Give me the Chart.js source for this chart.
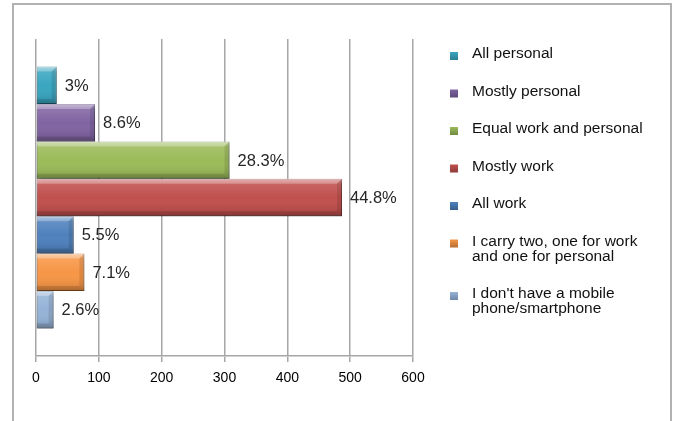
<!DOCTYPE html>
<html>
<head>
<meta charset="utf-8">
<script src="https://cdn.jsdelivr.net/npm/chart.js@4/dist/chart.umd.min.js"></script>
<style>
    html, body { margin: 0; padding: 0; background: #fff; }
    canvas { display: block; }
</style>
</head>
<body>
<canvas id="myChart" width="674" height="421"></canvas>
<script>
// Survey answers: how the mobile phone is used
const seriesNames = [
    'All personal',
    'Mostly personal',
    'Equal work and personal',
    'Mostly work',
    'All work',
    'I carry two, one for work and one for personal',
    "I don't have a mobile phone/smartphone"
];
const responseCounts = [33, 94, 308, 487, 60, 77, 28];
const xTicks = [0, 100, 200, 300, 400, 500, 600];

const barColors = ['#3AA6C0', '#8064A2', '#9BBB59', '#C0504D', '#4F81BD', '#F79646', '#95B3D7'];
const edgeColors = ['#2B7F94', '#5E4A7A', '#718B40', '#8F3B39', '#385F8C', '#B76E32', '#6F87A6'];

const totalCount = responseCounts.reduce((a, b) => a + b, 0);

function percentText(v) {
    let s = (v / totalCount * 100).toFixed(1);
    if (s.endsWith('.0')) s = s.slice(0, -2);
    return s + '%';
}

const FONT = '"Liberation Sans", Arial, sans-serif';

// white page with the light frame around the whole chart
const framePlugin = {
    id: 'frame',
    beforeDraw(chart) {
        const ctx = chart.ctx;
        ctx.save();
        ctx.fillStyle = '#fff';
        ctx.fillRect(0, 0, chart.width, chart.height);
        ctx.strokeStyle = '#B2B2B2';
        ctx.lineWidth = 2;
        ctx.strokeRect(13, 4, 658, 600);
        ctx.restore();
    }
};

// soft drop shadow under the bars, then a bevel-like shading on top
const bevelPlugin = {
    id: 'bevel',
    beforeDatasetDraw(chart) {
        const ctx = chart.ctx;
        ctx.save();
        ctx.shadowColor = 'rgba(0,0,0,0.35)';
        ctx.shadowBlur = 3;
        ctx.shadowOffsetX = 1;
        ctx.shadowOffsetY = 2;
    },
    afterDatasetDraw(chart, args) {
        const ctx = chart.ctx;
        ctx.restore();
        const meta = args.meta;
        meta.data.forEach(bar => {
            const left = Math.min(bar.base, bar.x);
            const right = Math.max(bar.base, bar.x);
            const top = bar.y - bar.height / 2;
            const h = bar.height;
            const w = right - left;
            ctx.save();
            const g = ctx.createLinearGradient(0, top, 0, top + h);
            g.addColorStop(0, 'rgba(255,255,255,0.4)');
            g.addColorStop(0.14, 'rgba(255,255,255,0.12)');
            g.addColorStop(0.5, 'rgba(255,255,255,0)');
            g.addColorStop(0.85, 'rgba(0,0,0,0.08)');
            g.addColorStop(1, 'rgba(0,0,0,0.22)');
            ctx.fillStyle = g;
            ctx.fillRect(left, top, w, h);
            // top bevel strip
            const b = Math.min(5, w / 3);
            ctx.fillStyle = 'rgba(255,255,255,0.25)';
            ctx.beginPath();
            ctx.moveTo(left, top);
            ctx.lineTo(right, top);
            ctx.lineTo(right - b, top + b);
            ctx.lineTo(left, top + b);
            ctx.closePath();
            ctx.fill();
            // right end bevel
            ctx.fillStyle = 'rgba(0,0,0,0.1)';
            ctx.beginPath();
            ctx.moveTo(right, top);
            ctx.lineTo(right, top + h);
            ctx.lineTo(right - b, top + h - b);
            ctx.lineTo(right - b, top + b);
            ctx.closePath();
            ctx.fill();
            // bottom bevel
            ctx.fillStyle = 'rgba(0,0,0,0.12)';
            ctx.beginPath();
            ctx.moveTo(left, top + h);
            ctx.lineTo(right, top + h);
            ctx.lineTo(right - b, top + h - b);
            ctx.lineTo(left, top + h - b);
            ctx.closePath();
            ctx.fill();
            ctx.restore();
        });
    }
};

// percentage labels to the right of each bar
const valueLabelPlugin = {
    id: 'valueLabels',
    afterDatasetsDraw(chart) {
        const ctx = chart.ctx;
        ctx.save();
        ctx.font = '16.5px ' + FONT;
        ctx.fillStyle = '#262626';
        ctx.textBaseline = 'middle';
        ctx.textAlign = 'left';
        chart.data.datasets.forEach((ds, i) => {
            const bar = chart.getDatasetMeta(i).data[0];
            ctx.fillText(percentText(ds.data[0]), bar.x + 8, bar.y + 1);
        });
        ctx.restore();
    }
};

// legend on the right, wrapping long names onto two lines
const sideLegendPlugin = {
    id: 'sideLegend',
    afterDraw(chart) {
        const ctx = chart.ctx;
        const maxW = 178;
        ctx.save();
        ctx.font = '15.5px ' + FONT;
        ctx.textBaseline = 'middle';
        let y = 54;
        seriesNames.forEach((name, i) => {
            const words = name.split(' ');
            const lines = [];
            let line = '';
            words.forEach(w => {
                const test = line ? line + ' ' + w : w;
                if (ctx.measureText(test).width > maxW && line) {
                    lines.push(line);
                    line = w;
                } else {
                    line = test;
                }
            });
            lines.push(line);

            const my = y + 2;
            const g = ctx.createLinearGradient(0, my - 4, 0, my + 4);
            g.addColorStop(0, barColors[i]);
            g.addColorStop(1, edgeColors[i]);
            ctx.fillStyle = g;
            ctx.fillRect(450, my - 4, 8, 8);

            ctx.fillStyle = '#111';
            lines.forEach((l, k) => ctx.fillText(l, 472, y + k * 15));
            y += (lines.length - 1) * 15 + 37.5;
        });
        ctx.restore();
    }
};

const datasets = seriesNames.map((name, i) => ({
    label: name,
    data: [responseCounts[i]],
    backgroundColor: barColors[i],
    borderColor: edgeColors[i],
    borderWidth: 1,
    borderSkipped: false
}));

const ctx = document.getElementById('myChart').getContext('2d');
new Chart(ctx, {
    type: 'bar',
    data: { labels: [''], datasets: datasets },
    options: {
        indexAxis: 'y',
        responsive: false,
        animation: false,
        categoryPercentage: 0.826,
        barPercentage: 1,
        layout: { padding: { left: 36, top: 39, right: 261, bottom: 0 } },
        plugins: {
            legend: { display: false },
            tooltip: { enabled: false }
        },
        scales: {
            x: {
                min: xTicks[0],
                max: xTicks[xTicks.length - 1],
                afterBuildTicks: scale => { scale.ticks = xTicks.map(v => ({ value: v })); },
                afterFit: scale => { scale.height = 65; },
                grid: { color: '#A6A6A6', lineWidth: 1.5, tickLength: 6, tickColor: '#A6A6A6' },
                border: { color: '#A6A6A6', width: 1.5 },
                ticks: {
                    color: '#000',
                    padding: 8,
                    font: { family: FONT, size: 14 }
                }
            },
            y: { display: false }
        }
    },
    plugins: [framePlugin, bevelPlugin, valueLabelPlugin, sideLegendPlugin]
});
</script>
</body>
</html>
